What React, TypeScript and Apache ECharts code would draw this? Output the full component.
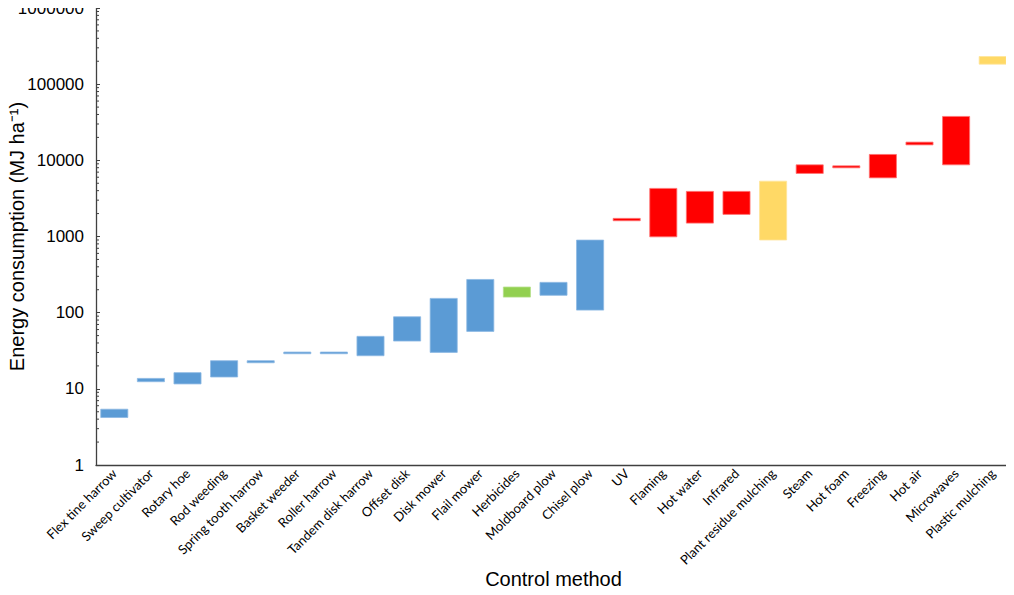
import React, { useEffect, useRef } from "react";
import * as echarts from "echarts";

const categories = [
  "Flex tine harrow", "Sweep cultivator", "Rotary hoe", "Rod weeding", "Spring tooth harrow",
  "Basket weeder", "Roller harrow", "Tandem disk harrow", "Offset disk", "Disk mower",
  "Flail mower", "Herbicides", "Moldboard plow", "Chisel plow", "UV",
  "Flaming", "Hot water", "Infrared", "Plant residue mulching", "Steam",
  "Hot foam", "Freezing", "Hot air", "Microwaves", "Plastic mulching",
];
const lows = [4.2, 12.4, 11.6, 14.3, 22.0, 28.9, 28.9, 27.2, 42.4, 30.1, 56.8, 160, 169, 108, 1610, 990, 1500, 1950, 900, 6730, 7980, 5890, 15960, 8730, 183000];
const highs = [5.4, 13.7, 16.3, 23.4, 23.4, 30.4, 30.4, 48.9, 88.3, 154, 273, 217, 250, 897, 1730, 4280, 3910, 3910, 5330, 8730, 8470, 11950, 17340, 37700, 230700];
// 0 mechanical, 1 chemical, 2 thermal, 3 cultural
const groups = [0, 0, 0, 0, 0, 0, 0, 0, 0, 0, 0, 1, 0, 0, 2, 2, 2, 2, 3, 2, 2, 2, 2, 2, 3];
const groupColors = ["#5B9BD5", "#92D050", "#FF0000", "#FFD966"];
const groupBorders = ["#8DB9E3", "#B5E08A", "#FF7070", "#FFE499"];
const yTickLabels = ["1", "10", "100", "1000", "10000", "100000", "1000000"];

export default function App() {
  const ref = useRef<HTMLDivElement>(null);
  useEffect(() => {
    const chart = echarts.init(ref.current!, undefined, { renderer: "svg" });
    const minorTicks: number[] = [];
    for (let k = 0; k < 6; k++) for (let m = 2; m <= 9; m++) minorTicks.push(m * Math.pow(10, k));
    const barData = categories.map((_, i) => [i, lows[i], highs[i], groups[i]]);
    chart.setOption({
      animation: false,
      grid: { left: 96, right: 3, top: 8, bottom: 130, containLabel: false, outerBoundsMode: "none" },
      xAxis: {
        type: "category",
        data: categories,
        name: "Control method",
        nameLocation: "middle",
        nameGap: 104,
        nameMoveOverlap: false,
        nameTextStyle: { fontFamily: "Liberation Sans", fontSize: 20, color: "#000" },
        axisLine: { lineStyle: { color: "#404040", width: 1.3 } },
        axisTick: { show: false },
        axisLabel: {
          rotate: 45,
          interval: 0,
          margin: 6,
          fontFamily: "Lato",
          fontSize: 13,
          color: "#000",
        },
      },
      yAxis: {
        type: "log",
        logBase: 10,
        min: 1,
        max: 1000000,
        name: "Energy consumption (MJ ha\u207B\u00B9)",
        nameLocation: "middle",
        nameGap: 69,
        nameMoveOverlap: false,
        nameTextStyle: { fontFamily: "Liberation Sans", fontSize: 20, color: "#000" },
        axisLine: { show: true, lineStyle: { color: "#404040", width: 1.3 } },
        axisTick: { show: true, inside: true, length: 4, lineStyle: { color: "#404040" } },
        splitLine: { show: false },
        axisLabel: {
          margin: 12,
          fontFamily: "Liberation Sans",
          fontSize: 17,
          color: "#000",
          formatter: (v: number) => {
            const idx = Math.round(Math.log10(v));
            return yTickLabels[idx] ?? String(v);
          },
        },
      },
      series: [
        {
          type: "custom",
          data: barData,
          encode: { x: 0, y: [1, 2] },
          renderItem: (params: any, api: any) => {
            const i = api.value(0);
            const lo = api.value(1);
            const hi = api.value(2);
            const g = api.value(3);
            const pTop = api.coord([i, hi]);
            const pBot = api.coord([i, lo]);
            const band = api.coord([1, hi])[0] - api.coord([0, hi])[0];
            const bw = band * 0.74;
            return {
              type: "rect",
              shape: { x: pTop[0] - bw / 2, y: pTop[1], width: bw, height: Math.max(pBot[1] - pTop[1], 1.5) },
              style: { fill: groupColors[g], stroke: groupBorders[g], lineWidth: 0.8 },
            };
          },
        },
        {
          type: "custom",
          data: minorTicks.map((v) => [0, v]),
          encode: { x: 0, y: 1 },
          silent: true,
          renderItem: (params: any, api: any) => {
            const v = api.value(1);
            const p = api.coord([0, v]);
            const band = api.coord([1, v])[0] - p[0];
            const x0 = p[0] - band / 2;
            return {
              type: "line",
              shape: { x1: x0, y1: p[1], x2: x0 + 3, y2: p[1] },
              style: { stroke: "#404040", lineWidth: 1 },
            };
          },
        },
      ],
    });
    return () => chart.dispose();
  }, []);
  return <div ref={ref} style={{ width: 1014, height: 595, margin: -8 }} />;
}
